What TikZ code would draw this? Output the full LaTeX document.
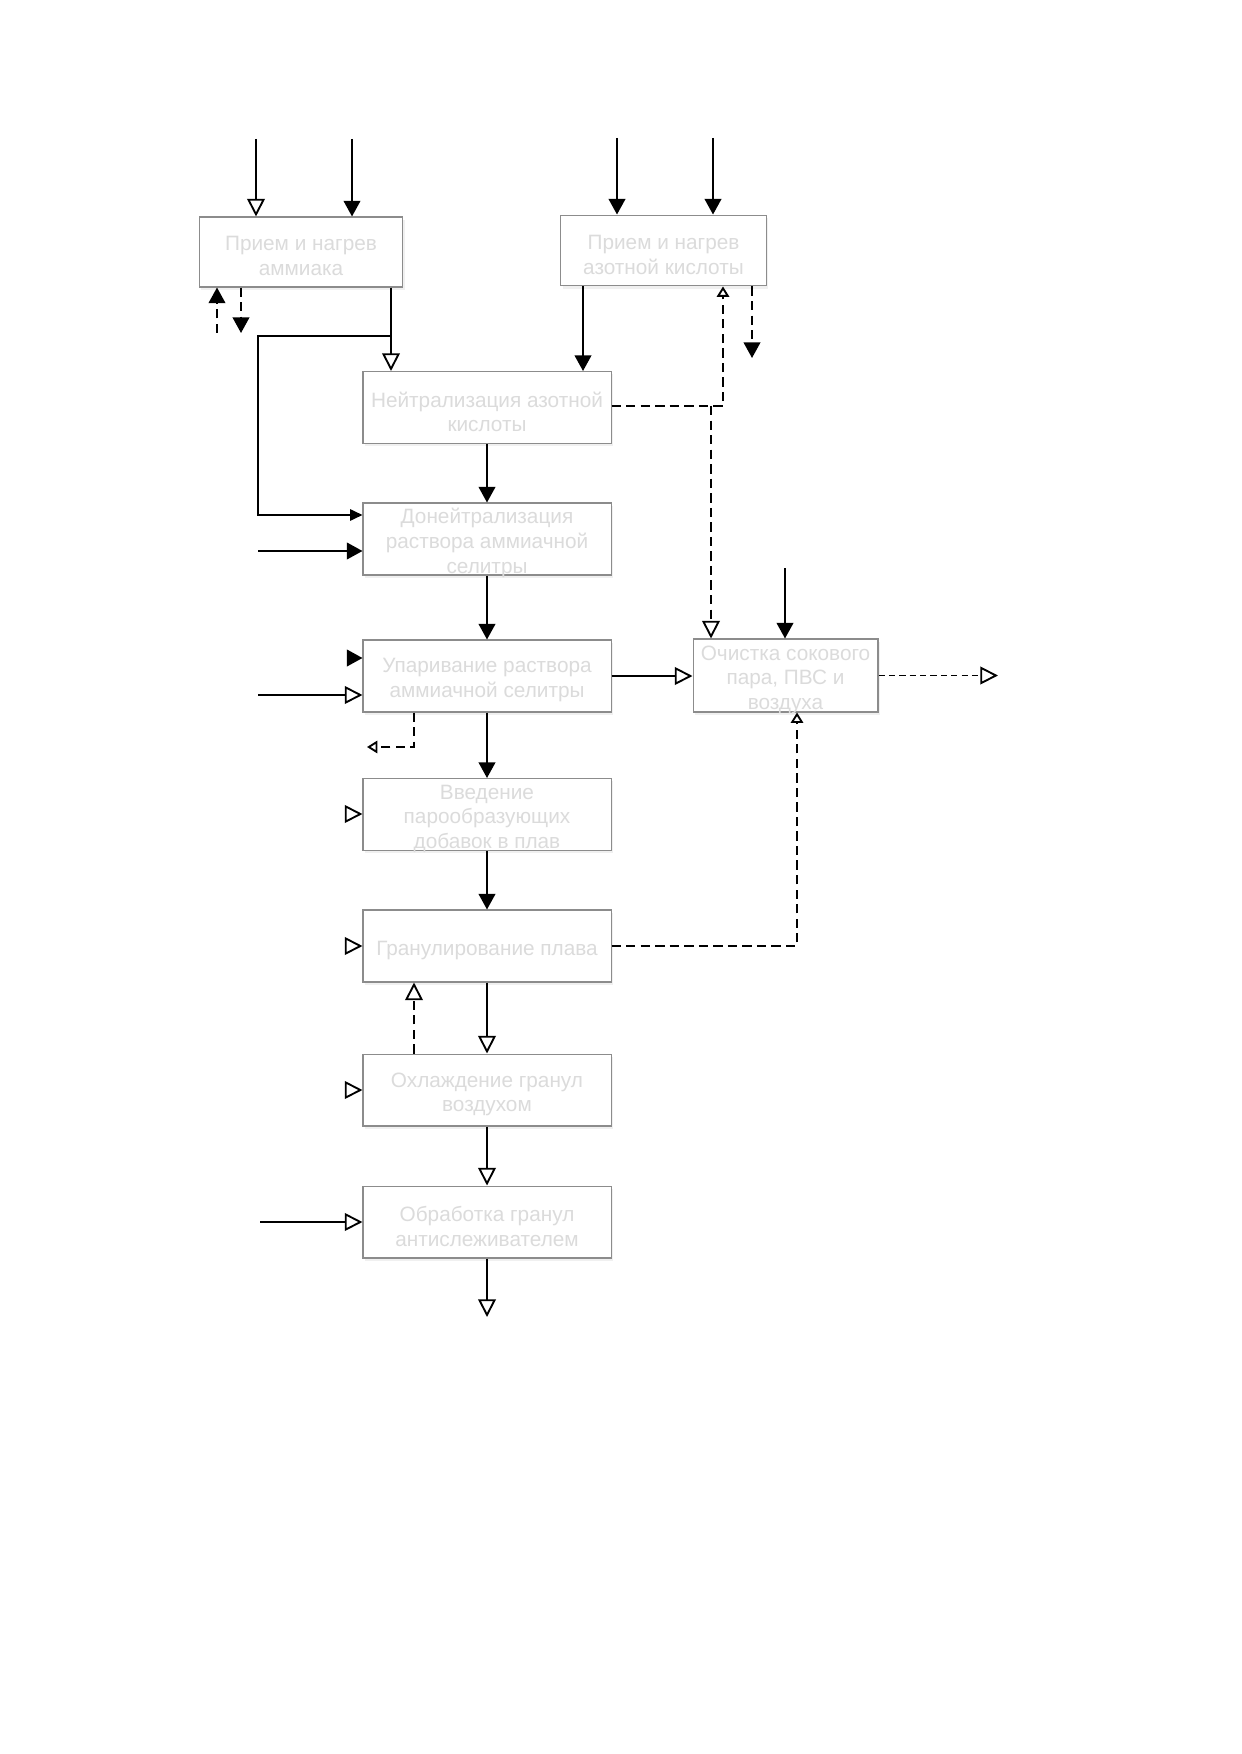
\documentclass[tikz,border=0pt]{standalone}
\usepackage{fontspec}
\setmainfont{Liberation Sans}
\usetikzlibrary{arrows.meta, shadows}

\begin{document}
\begin{tikzpicture}
[x=0.016922cm, y=-0.016922cm,
 blk/.style={draw=black!45, fill=white, line width=0.5pt, minimum width=4.197cm, minimum height=1.218cm,
   drop shadow={shadow xshift=1pt, shadow yshift=-1.3pt, opacity=0.12}},
 txt/.style={align=center, text=black!14, font=\fontsize{10}{12}\selectfont, yshift=-2.1pt},
 fl/.style={line width=0.9pt, -{Triangle[length=7.5pt, width=8pt]}},
 fls/.style={line width=0.9pt, -{Triangle[length=6pt, width=5.5pt]}},
 op/.style={line width=0.9pt, -{Triangle[open, length=8.5pt, width=8.5pt]}},
 ops/.style={line width=0.9pt, -{Triangle[open, length=5pt, width=6pt]}},
 dsh/.style={dash pattern=on 4.5pt off 2.5pt}]
\useasboundingbox (0,0) rectangle (1241,1754);
\node[blk, minimum width=3.45cm, minimum height=1.185cm, label={[txt]center:{Прием и нагрев\\аммиака}}] (b1) at (301,252) {};
\node[blk, minimum width=3.47cm, minimum height=1.2cm, label={[txt]center:{Прием и нагрев\\азотной кислоты}}] (b2) at (663.5,250.5) {};
\node[blk, label={[txt]center:{Нейтрализация азотной\\кислоты}}] (b3) at (487,407.5) {};
\node[blk, label={[txt]center:{Донейтрализация\\раствора аммиачной\\селитры}}] (b4) at (487,539) {};
\node[blk, label={[txt]center:{Упаривание раствора\\аммиачной селитры}}] (b5) at (487,676) {};
\node[blk, label={[txt]center:{Введение\\парообразующих\\добавок в плав}}] (b6) at (487,814.5) {};
\node[blk, label={[txt]center:{Гранулирование плава}}] (b7) at (487,946) {};
\node[blk, label={[txt]center:{Охлаждение гранул\\воздухом}}] (b8) at (487,1090) {};
\node[blk, label={[txt]center:{Обработка гранул\\антислеживателем}}] (b9) at (487,1222) {};
\node[blk, minimum width=3.13cm, minimum height=1.235cm, label={[txt]center:{Очистка сокового\\пара, ПВС и\\воздуха}}] (b10) at (785.5,675.5) {};

\coordinate (a1) at (256,139); \draw[op] (a1) -- (a1 |- b1.north);
\coordinate (a2) at (352,139); \draw[fl] (a2) -- (a2 |- b1.north);
\coordinate (a3) at (217,333); \draw[fl,dsh] (a3) -- (a3 |- b1.south);
\coordinate (a4) at (241,333); \draw[fl,dsh] (a4 |- b1.south) -- (a4);
\coordinate (j1) at (391,336); \draw[op] (j1 |- b1.south) -- (j1 |- b3.north);
\coordinate (j2) at (258,515); \draw[fls] (j1) -| (j2) -- (j2 -| b4.west);

\coordinate (c1) at (617,138); \draw[fl] (c1) -- (c1 |- b2.north);
\coordinate (c2) at (713,138); \draw[fl] (c2) -- (c2 |- b2.north);
\coordinate (c3) at (583,0); \draw[fl] (c3 |- b2.south) -- (c3 |- b3.north);
\coordinate (c4) at (723,406); \draw[ops,dsh] (c4 -| b3.east) -- (c4) -- (c4 |- b2.south);
\coordinate (c5) at (711,406); \draw[op,dsh] (c5) -- (c5 |- b10.north);
\coordinate (c6) at (752,358); \draw[fl,dsh] (c6 |- b2.south) -- (c6);

\draw[fl] (b3.south) -- (b4.north);
\coordinate (d1) at (258,551); \draw[fl] (d1) -- (d1 -| b4.west);
\draw[fl] (b4.south) -- (b5.north);
\coordinate (e1) at (347,658); \draw[fl] (e1) -- (e1 -| b5.west);
\coordinate (e2) at (258,695); \draw[op] (e2) -- (e2 -| b5.west);
\coordinate (e3) at (414,747); \coordinate (e4) at (367,747);
\draw[ops,dsh] (e3 |- b5.south) -- (e3) -- (e4);
\draw[fl] (b5.south) -- (b6.north);
\draw[op] (b5.east) -- (b5.east -| b10.west);
\coordinate (f1) at (785,568); \draw[fl] (f1) -- (f1 |- b10.north);
\coordinate (f2) at (998,675); \draw[op, dash pattern=on 3pt off 2pt] (b10.east) -- (f2 |- b10.east);
\coordinate (f3) at (797,946); \draw[ops,dsh] (b7.east) -- (f3) -- (f3 |- b10.south);

\coordinate (g1) at (345,814); \draw[op] (g1) -- (g1 -| b6.west);
\draw[fl] (b6.south) -- (b7.north);
\coordinate (g2) at (345,946); \draw[op] (g2) -- (g2 -| b7.west);
\draw[op] (b7.south) -- (b8.north);
\coordinate (g3) at (414,0); \draw[op,dsh] (g3 |- b8.north) -- (g3 |- b7.south);
\coordinate (g4) at (345,1090); \draw[op] (g4) -- (g4 -| b8.west);
\draw[op] (b8.south) -- (b9.north);
\coordinate (g5) at (260,1222); \draw[op] (g5) -- (g5 -| b9.west);
\coordinate (g6) at (487,1317); \draw[op] (b9.south) -- (g6);
\end{tikzpicture}
\end{document}
